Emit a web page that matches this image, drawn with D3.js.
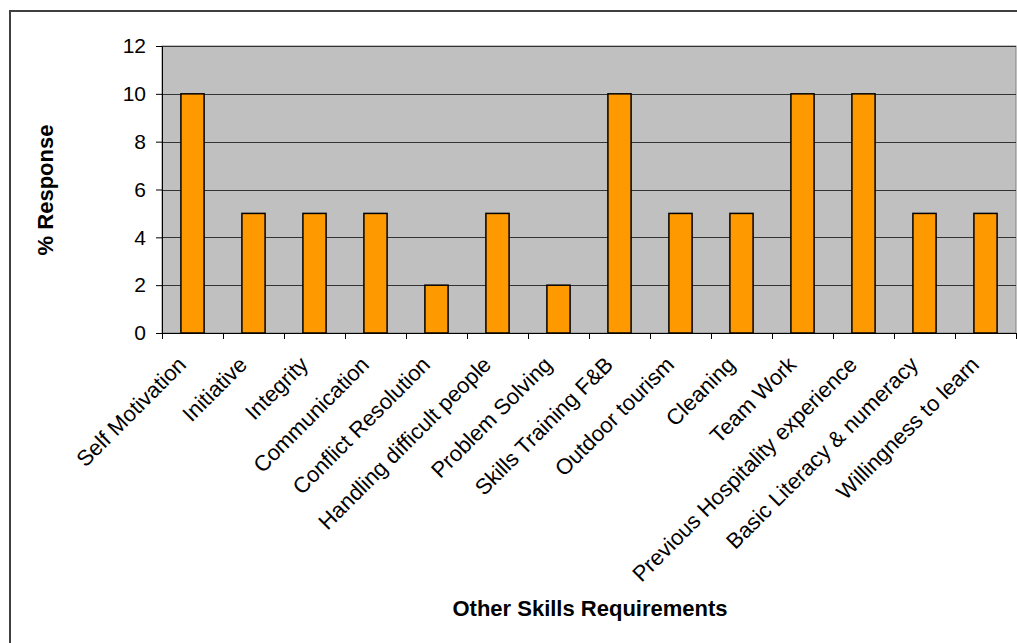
<!DOCTYPE html>
<html><head><meta charset="utf-8">
<script src="https://cdn.jsdelivr.net/npm/d3@7"></script>
<style>body{margin:0;background:#fff}svg{display:block}</style>
</head><body>
<script>
const categories = ["Self Motivation","Initiative","Integrity","Communication","Conflict Resolution","Handling difficult people","Problem Solving","Skills Training F&B","Outdoor tourism","Cleaning","Team Work","Previous Hospitality experience","Basic Literacy & numeracy","Willingness to learn"];
const values = [10,5,5,5,2,5,2,10,5,5,10,10,5,5];
const yTicks = [0,2,4,6,8,10,12];

const W = 1017, H = 643;
const m = {left:162, right:1016, top:46, bottom:333};
const svg = d3.select("body").append("svg").attr("width",W).attr("height",H);
const font = "Liberation Sans, Arial, sans-serif";

// outer frame
svg.append("rect").attr("x",10).attr("y",11).attr("width",W).attr("height",H)
  .attr("fill","#fff").attr("stroke","#404040").attr("stroke-width",2);

const x = d3.scaleBand().domain(categories).range([m.left,m.right]).paddingInner(0).paddingOuter(0);
const y = d3.scaleLinear().domain([0,12]).range([m.bottom,m.top]);

svg.append("rect").attr("x",m.left).attr("y",m.top).attr("width",m.right-m.left).attr("height",m.bottom-m.top)
  .attr("fill","#C0C0C0").attr("stroke","#808080").attr("stroke-width",1);

// gridlines
svg.append("g").selectAll("line").data(yTicks.filter(d=>d>0)).join("line")
  .attr("x1",m.left).attr("x2",m.right).attr("y1",d=>Math.round(y(d))+0.5).attr("y2",d=>Math.round(y(d))+0.5)
  .attr("stroke","#333").attr("stroke-width",1);

// bars
const bw = x.bandwidth()*0.38;
svg.append("g").selectAll("rect").data(values).join("rect")
  .attr("x",(d,i)=>x(categories[i])+x.bandwidth()/2-bw/2)
  .attr("y",d=>y(d)).attr("width",bw).attr("height",d=>y(0)-y(d))
  .attr("fill","#FF9900").attr("stroke","#000").attr("stroke-width",1.5);

// y axis
const ya = svg.append("g").attr("transform",`translate(${m.left},0)`)
  .call(d3.axisLeft(y).tickValues(yTicks).tickSize(6).tickPadding(10).tickFormat(d3.format("d")));
ya.select(".domain").attr("stroke","#000");
ya.selectAll(".tick line").attr("stroke","#000");
ya.selectAll("text").attr("font-family",font).attr("font-size",21).attr("fill","#000");

// x axis
const xa = svg.append("g").attr("transform",`translate(0,${m.bottom})`)
  .call(d3.axisBottom(x).tickSize(0).tickFormat(""));
xa.select(".domain").attr("stroke","#000");
const tickPos = d3.range(categories.length+1).map(i=>m.left+i*x.bandwidth());
xa.append("g").selectAll("line").data(tickPos).join("line")
  .attr("x1",d=>Math.round(d)+0.5).attr("x2",d=>Math.round(d)+0.5).attr("y1",0).attr("y2",6)
  .attr("stroke","#000");
xa.append("g").selectAll("text").data(categories).join("text")
  .attr("transform",d=>`translate(${x(d)+x.bandwidth()/2-5},${33}) rotate(-45)`)
  .attr("text-anchor","end").attr("font-family",font).attr("font-size",22).attr("fill","#000")
  .text(d=>d);

// titles
svg.append("text").attr("x",590).attr("y",616).attr("text-anchor","middle")
  .attr("font-family",font).attr("font-size",22).attr("font-weight","bold").text("Other Skills Requirements");
svg.append("text").attr("transform","translate(53,190) rotate(-90)").attr("text-anchor","middle")
  .attr("font-family",font).attr("font-size",22).attr("font-weight","bold").text("% Response");
</script>
</body></html>
